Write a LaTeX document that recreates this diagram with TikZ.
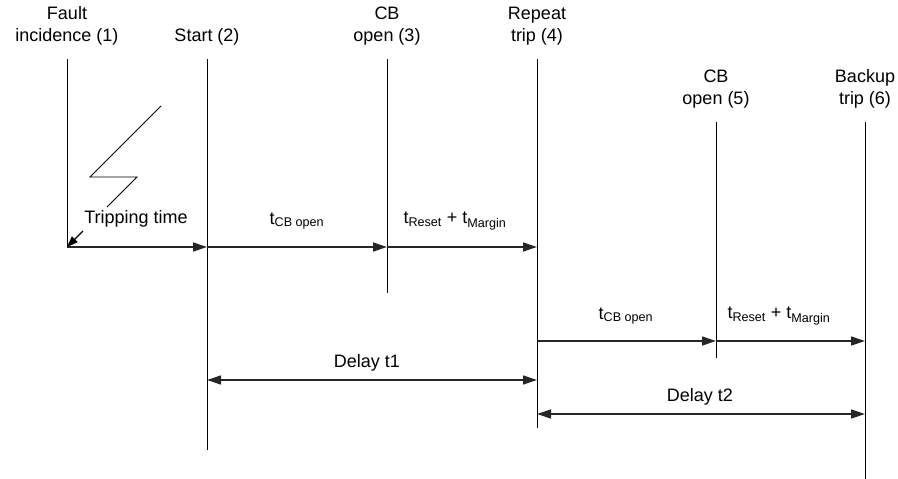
\documentclass[tikz,border=0pt]{standalone}
\usepackage{fontspec}
\setmainfont{Liberation Sans}
\usetikzlibrary{arrows.meta}
\begin{document}
\begin{tikzpicture}[x=1pt,y=-1pt,
  vline/.style={line width=0.9pt, draw=black},
  tarrow/.style={line width=1.3pt, draw=black!85, -{Triangle[length=14pt,width=9pt]}},
  darrow/.style={line width=1.3pt, draw=black!85, {Triangle[length=14pt,width=9pt]}-{Triangle[length=14pt,width=9pt]}},
  lbl/.style={font=\fontsize{18}{22}\selectfont, align=center, inner sep=0pt},
  sub/.style={font=\fontsize{18}{22}\selectfont, inner sep=0pt}]
\useasboundingbox (0,0) rectangle (898,479);
% event lines
\coordinate (t1) at (67,59);   \coordinate (b1) at (67,247);
\coordinate (t2) at (207,59);  \coordinate (b2) at (207,450);
\coordinate (t3) at (387,59);  \coordinate (b3) at (387,293);
\coordinate (t4) at (537,59);  \coordinate (b4) at (537,428);
\coordinate (t5) at (716,122); \coordinate (b5) at (716,358);
\coordinate (t6) at (865,122); \coordinate (b6) at (865,479);
\foreach \i in {1,...,6} {\draw[vline] (t\i) -- (b\i);}
% labels
\node[lbl] (L1) at (67,26) {Fault\\incidence (1)};
\node[lbl] (L2) at (207,37) {Start (2)};
\node[lbl] (L3) at (387,26) {CB\\open (3)};
\node[lbl] (L4) at (537,26) {Repeat\\trip (4)};
\node[lbl] (L5) at (716,89) {CB\\open (5)};
\node[lbl] (L6) at (865,89) {Backup\\trip (6)};
% arrow points
\coordinate (a2) at (207,247); \coordinate (a3) at (387,247); \coordinate (a4) at (537,247);
\coordinate (c4) at (537,341); \coordinate (c5) at (716,341); \coordinate (c6) at (865,341);
\coordinate (d2) at (207,380); \coordinate (d4) at (537,380);
\coordinate (e4) at (537,414); \coordinate (e6) at (865,414);
\draw[tarrow] (b1) -- (a2);
\draw[tarrow] (a2) -- (a3);
\draw[tarrow] (a3) -- (a4);
\draw[tarrow] (c4) -- (c5);
\draw[tarrow] (c5) -- (c6);
\draw[darrow] (d2) -- (d4);
\draw[darrow] (e4) -- (e6);
% lightning
\coordinate (l1) at (161,106); \coordinate (l2) at (90,177);
\coordinate (l3) at (137,177); \coordinate (l4) at (107,207);
\draw[line width=0.9pt] (l1) -- (l2) -- (l3) -- (l4);
\coordinate (k1) at (83,231);
\draw[line width=1.1pt, -{Triangle[length=11pt,width=8pt]}] (k1) -- (b1);
% time labels
\node[lbl] (TT) at (136,219) {Tripping time};
\node[sub] (S1) at (297,221) {t\textsubscript{CB open}};
\node[sub] (S2) at (455,221) {t\textsubscript{Reset} + t\textsubscript{Margin}};
\node[sub] (S3) at (626,316) {t\textsubscript{CB open}};
\node[sub] (S4) at (779,316) {t\textsubscript{Reset} + t\textsubscript{Margin}};
\node[lbl] (D1) at (367,363) {Delay t1};
\node[lbl] (D2) at (700,397) {Delay t2};
\end{tikzpicture}
\end{document}
